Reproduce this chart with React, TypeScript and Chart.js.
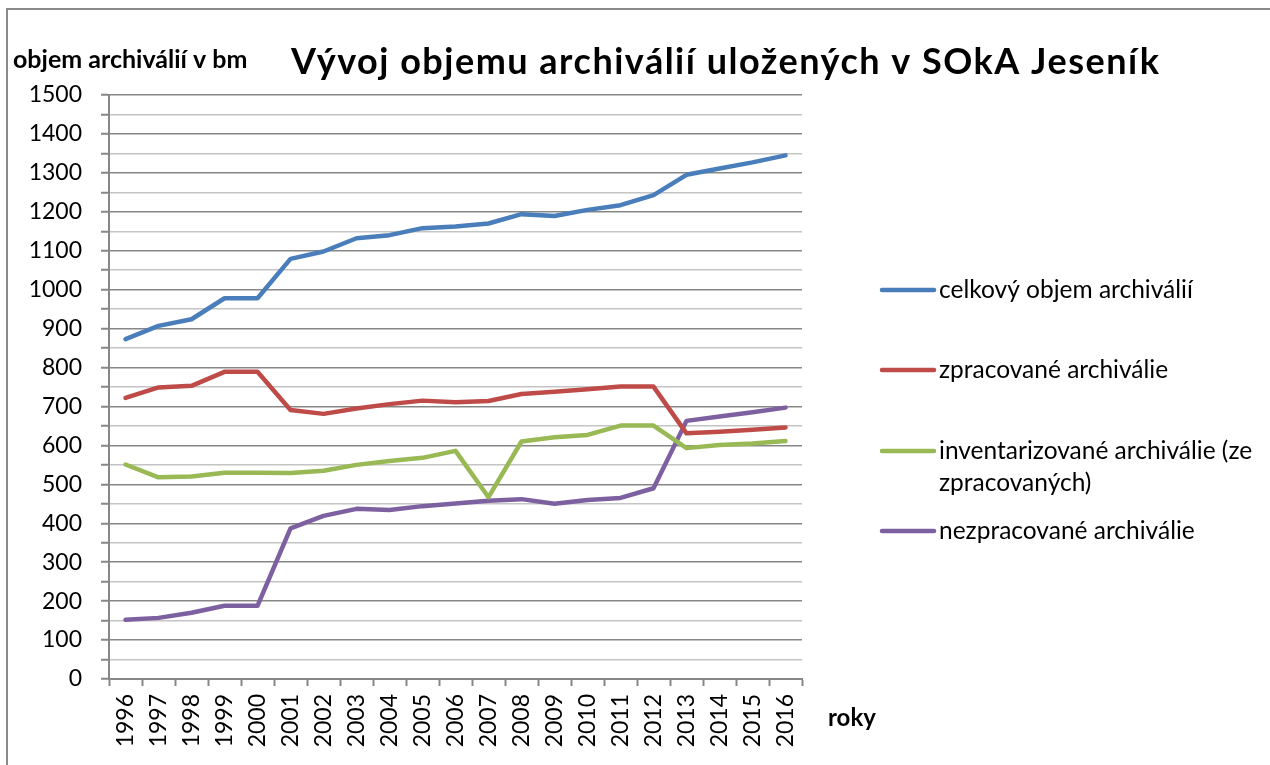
import React, { useEffect, useRef } from "react";
import { Chart, registerables } from "chart.js";

Chart.register(...registerables);

const years = ["1996", "1997", "1998", "1999", "2000", "2001", "2002", "2003", "2004", "2005", "2006", "2007", "2008", "2009", "2010", "2011", "2012", "2013", "2014", "2015", "2016"];
const celkovy = [873, 907, 924, 978, 978, 1079, 1098, 1132, 1140, 1158, 1162, 1170, 1194, 1189, 1205, 1217, 1243, 1295, 1311, 1327, 1345];
const zpracovane = [722, 749, 753, 789, 789, 691, 681, 695, 706, 715, 711, 714, 732, 738, 744, 751, 751, 631, 635, 640, 646];
const inventarizovane = [551, 518, 520, 530, 530, 529, 535, 550, 560, 568, 586, 467, 610, 621, 627, 651, 651, 593, 601, 605, 611];
const nezpracovane = [152, 157, 170, 188, 188, 387, 419, 437, 434, 444, 451, 458, 462, 450, 460, 465, 490, 663, 674, 685, 697];
const seriesLabels = ["celkový objem archiválií", "zpracované archiválie", "inventarizované archiválie (ze zpracovaných)", "nezpracované archiválie"];
const legendLines = [["celkový objem archiválií"], ["zpracované archiválie"], ["inventarizované archiválie (ze", "zpracovaných)"], ["nezpracované archiválie"]];
const seriesColors = ["#4A7EBB", "#BE4B48", "#98B954", "#7D60A0"];
const chartTitle = "Vývoj objemu archiválií uložených v SOkA Jeseník";
const yTitle = "objem archiválií v bm";
const xTitle = "roky";
const yMin = 0;
const yMax = 1500;
const yStep = 50;

const FONT = "Lato, 'Open Sans', sans-serif";

const decorPlugin = {
  id: "decor",
  beforeDraw(chart: any) {
    const ctx = chart.ctx;
    ctx.save();
    ctx.fillStyle = "#ffffff";
    ctx.fillRect(0, 0, chart.width, chart.height);
    ctx.strokeStyle = "#8a8a8a";
    ctx.lineWidth = 2;
    ctx.strokeRect(7, 9, chart.width + 20, chart.height + 20);
    ctx.restore();
  },
  afterDraw(chart: any) {
    const ctx = chart.ctx;
    ctx.save();
    ctx.fillStyle = "#000000";
    ctx.textBaseline = "middle";
    ctx.textAlign = "left";
    ctx.font = `bold 36px ${FONT}`;
    (ctx as any).letterSpacing = "1.5px";
    ctx.fillText(chartTitle, 291, 62);
    (ctx as any).letterSpacing = "0px";
    ctx.font = `bold 25px ${FONT}`;
    ctx.fillText(yTitle, 13, 60);
    ctx.font = `bold 24px ${FONT}`;
    ctx.fillText(xTitle, 828, 718);

    // legend
    const ys = [290, 370, 451, 531];
    ctx.font = `24.5px ${FONT}`;
    chart.data.datasets.forEach((ds: any, i: number) => {
      const y = ys[i];
      ctx.strokeStyle = ds.borderColor;
      ctx.lineWidth = 4.5;
      ctx.lineCap = "round";
      ctx.beginPath();
      ctx.moveTo(882, y);
      ctx.lineTo(934, y);
      ctx.stroke();
      ctx.fillStyle = "#000000";
      legendLines[i].forEach((line, j) => {
        ctx.fillText(line, 939, y + j * 32);
      });
    });
    ctx.restore();
  },
};

export default function App() {
  const ref = useRef<HTMLCanvasElement>(null);

  useEffect(() => {
    document.body.style.margin = "0";
    const canvas = ref.current!;
    const datasets = [celkovy, zpracovane, inventarizovane, nezpracovane].map((d, i) => ({
      label: seriesLabels[i],
      data: d,
      borderColor: seriesColors[i],
      backgroundColor: seriesColors[i],
      borderWidth: 4.5,
      pointRadius: 0,
      tension: 0,
      borderCapStyle: "round" as const,
      borderJoinStyle: "round" as const,
      fill: false,
    }));
    const chart = new Chart(canvas, {
      type: "line",
      data: { labels: years, datasets },
      plugins: [decorPlugin],
      options: {
        responsive: false,
        animation: false,
        devicePixelRatio: 1,
        layout: { padding: { left: 0, top: 95, right: 468, bottom: 0 } },
        plugins: {
          legend: { display: false },
          title: { display: false },
          tooltip: { enabled: false },
        },
        scales: {
          x: {
            type: "category",
            offset: true,
            afterFit(scale: any) {
              scale.height = 86;
            },
            grid: {
              offset: true,
              drawOnChartArea: false,
              drawTicks: true,
              tickLength: 7,
              tickColor: "#878787",
              tickWidth: 2,
            },
            border: { display: true, color: "#878787", width: 2 },
            ticks: {
              autoSkip: false,
              maxRotation: 90,
              minRotation: 90,
              padding: 8,
              color: "#000000",
              font: { family: FONT, size: 23 },
            },
          },
          y: {
            min: yMin,
            max: yMax,
            afterFit(scale: any) {
              scale.width = 109;
            },
            grid: {
              color: (c: any) => (c.tick && c.tick.value % 100 === 0 ? "#878787" : "#c4c4c4"),
              lineWidth: 1.5,
              tickColor: "#878787",
              tickLength: 8,
              tickWidth: 2,
              drawTicks: true,
            },
            border: { display: true, color: "#878787", width: 2 },
            ticks: {
              stepSize: yStep,
              autoSkip: false,
              padding: 19,
              color: "#000000",
              font: { family: FONT, size: 23 },
              callback: (v: any) => (Number(v) % 100 === 0 ? String(v) : ""),
            },
          },
        },
      },
    });
    return () => chart.destroy();
  }, []);

  return (
    <div style={{ width: 1270, height: 765, position: "relative" }}>
      <canvas ref={ref} width={1270} height={765} style={{ display: "block", width: 1270, height: 765 }} />
    </div>
  );
}
